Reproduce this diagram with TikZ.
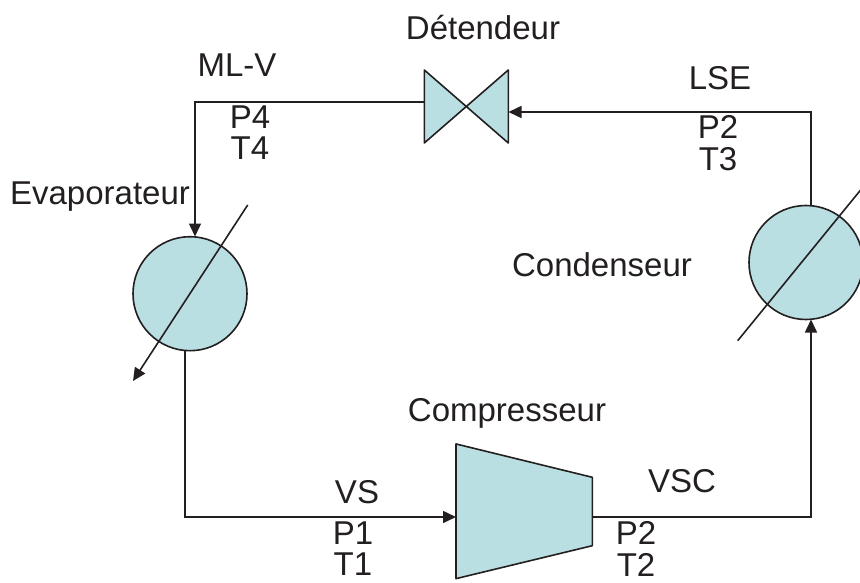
\documentclass[tikz,border=0pt]{standalone}
\usepackage{fontspec}
\setmainfont{Liberation Sans}
\usetikzlibrary{arrows.meta}
\definecolor{eau}{HTML}{BADFE3}
\definecolor{trait}{HTML}{231F20}
\begin{document}
\begin{tikzpicture}[x=1pt, y=-1pt, font=\fontsize{33}{31.5}\selectfont, text=trait, line width=1.6pt,
    main/.style = {draw=trait, fill=eau, circle, minimum size=114pt, inner sep=0pt},
    box/.style = {inner sep=0pt, outer sep=0pt},
    label/.style = {align=center, inner sep=0pt, anchor=center},
    pipe/.style = {draw=trait, -{Triangle[length=13pt, width=12pt]}}]
    \useasboundingbox (0,0) rectangle (860,583);
    % echangeurs
    \node[main] (evap) at (190,293.7) {};
    \node[main] (cond) at (806,262.5) {};
    \coordinate (evap1) at (247.7,205);
    \coordinate (evap2) at (133,381);
    \coordinate (cond1) at (737.7,340.7);
    \coordinate (cond2) at (872,176);
    \draw[pipe] (evap1) -- (evap2);
    \draw[draw=trait] (cond1) -- (cond2);
    % detendeur
    \node[box, minimum width=84pt, minimum height=73pt] (det) at (466.3,106.5) {};
    \draw[draw=trait, fill=eau, line join=round] (det.north west) -- (det.south east) -- (det.north east) -- (det.south west) -- cycle;
    % compresseur
    \node[box, minimum width=136.3pt, minimum height=134.7pt] (comp) at (456,511.3) [anchor=west] {};
    \coordinate (compA) at (592.3,477.3);
    \coordinate (compB) at (592.3,545.7);
    \draw[draw=trait, fill=eau, line join=round] (comp.north west) -- (compA) -- (compB) -- (comp.south west) -- cycle;
    % circuit
    \coordinate (a1) at (185,351);
    \coordinate (a2) at (185,517);
    \coordinate (a3) at (456,517);
    \coordinate (b1) at (592.3,517);
    \coordinate (b2) at (811,517);
    \coordinate (b3) at (811,319.5);
    \coordinate (c1) at (811,205);
    \coordinate (c2) at (811,112);
    \coordinate (c3) at (508.5,112);
    \coordinate (d1) at (424.3,102);
    \coordinate (d2) at (195,102);
    \coordinate (d3) at (195,236.5);
    \draw[pipe] (a1) -- (a2) -- (a3);
    \draw[pipe] (b1) -- (b2) -- (b3);
    \draw[pipe] (c1) -- (c2) -- (c3);
    \draw[pipe] (d1) -- (d2) -- (d3);
    % textes
    \node[label] (t0) at (483,28) {Détendeur};
    \node[label] (t1) at (237,65) {ML-V};
    \node[label] (t2) at (250,132.5) {P4\\T4};
    \node[label] (t3) at (720,78) {LSE};
    \node[label] (t4) at (718,143) {P2\\T3};
    \node[label] (t5) at (100,197) {Evaporateur};
    \node[label] (t6) at (602,265) {Condenseur};
    \node[label] (t7) at (507,413) {Compresseur};
    \node[label] (t8) at (357,492) {VS};
    \node[label] (t9) at (353,548.5) {P1\\T1};
    \node[label] (t10) at (682,481) {VSC};
    \node[label] (t11) at (636,549) {P2\\T2};
\end{tikzpicture}
\end{document}
